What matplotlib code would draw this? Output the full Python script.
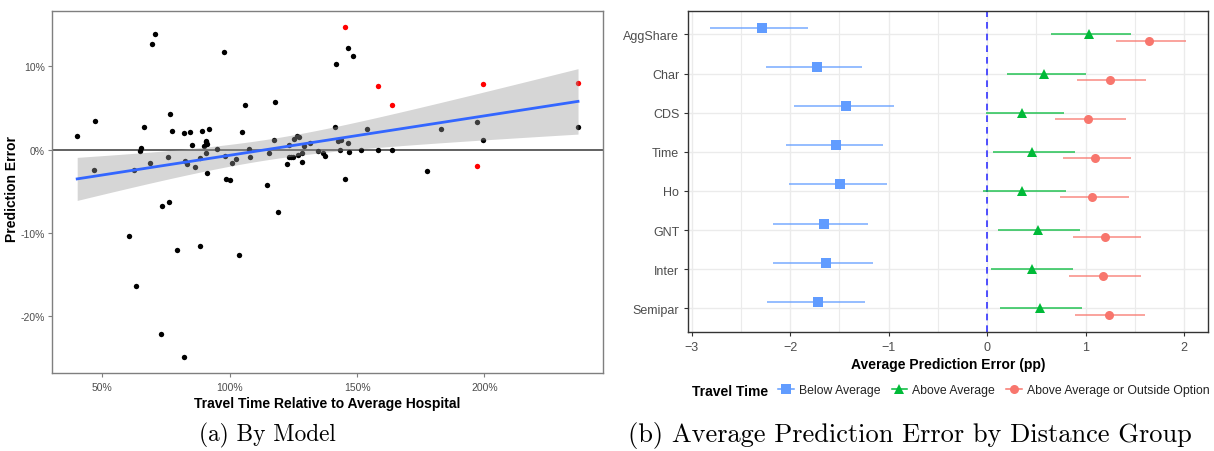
import numpy as np
import matplotlib
matplotlib.use("Agg")
import matplotlib.pyplot as plt
from matplotlib.lines import Line2D
from matplotlib.ticker import FuncFormatter, MultipleLocator

plt.rcParams['font.family'] = ['Liberation Sans', 'DejaVu Sans']

# ---- panel (a): hospital-level prediction errors (percent) ----
travel_time = [40.2, 47.0, 46.9, 60.5, 63.2, 62.3, 64.7, 65.3, 66.5, 68.7,
               69.5, 70.7, 73.3, 73.2, 75.8, 76.3, 76.6, 77.5, 79.3, 82.3,
               82.1, 82.5, 83.25, 84.6, 85.4, 86.4, 88.4, 88.5, 89.3, 89.9,
               90.6, 90.8, 91.0, 90.8, 91.0, 91.9, 95.0, 97.9, 98.3, 98.4,
               100.3, 100.8, 102.5, 103.5, 104.7, 106.1, 107.6, 108.0, 114.5, 115.3,
               117.3, 117.9, 119.0, 122.6, 123.4, 123.3, 124.2, 124.8, 125.2, 126.3,
               127.3, 126.9, 128.4, 128.6, 129.0, 131.6, 134.6, 136.8, 137.5, 141.3,
               141.7, 142.6, 143.9, 143.3, 145.4, 146.5, 146.6, 146.7, 148.5, 151.4,
               154.1, 158.1, 163.8, 177.3, 183.0, 197.0, 199.3, 236.7]
pred_error = [1.68, 3.41, -2.44, -10.32, -16.4, -2.40, -0.16, 0.2, 2.69, -1.62,
              12.69, 13.93, -6.78, -22.09, -0.91, -6.31, 4.25, 2.28, -12.08, 2.04,
              -24.85, -1.30, -1.74, 2.09, 0.60, -2.11, -0.96, -11.56, 2.21, 0.44,
              0.89, 1.08, 0.65, -0.36, -2.83, 2.52, 0.06, 11.69, -0.70, -3.48,
              -3.67, -1.54, -1.12, -12.64, 2.12, 5.34, 0.14, -0.88, -4.21, -0.43,
              1.16, 5.67, -7.45, -1.74, 0.54, -0.90, -0.90, -0.90, 1.32, 1.70,
              1.58, -0.58, -1.51, -0.42, 0.47, 0.80, -0.19, -0.40, -0.76, 2.69,
              10.25, 1.04, 1.20, 0.0, -3.48, 12.21, 0.83, -0.31, 11.25, 0.0,
              2.51, -0.07, 0.0, -2.56, 2.52, 3.29, 1.19, 2.73]
# highlighted hospitals
red_time = [145.4, 158.1, 163.8, 199.3, 197.0, 236.6]
red_error = [14.77, 7.68, 5.40, 7.89, -1.98, 8.04]

# ---- panel (b): average prediction error by distance group (pp) ----
models = ["AggShare", "Char", "CDS", "Time", "Ho", "GNT", "Inter", "Semipar"]
groups = ["Below Average", "Above Average", "Above Average or Outside Option"]
est = {
    "Below Average": [-2.29, -1.73, -1.43, -1.54, -1.49, -1.66, -1.64, -1.72],
    "Above Average": [1.035, 0.573, 0.356, 0.455, 0.356, 0.515, 0.455, 0.536],
    "Above Average or Outside Option": [1.646, 1.245, 1.025, 1.096, 1.062, 1.198, 1.174, 1.238],
}
lo = {
    "Below Average": [-2.81, -2.25, -1.96, -2.04, -2.01, -2.18, -2.18, -2.24],
    "Above Average": [0.645, 0.20, -0.01, 0.06, -0.045, 0.11, 0.04, 0.13],
    "Above Average or Outside Option": [1.31, 0.91, 0.69, 0.774, 0.743, 0.872, 0.835, 0.892],
}
hi = {
    "Below Average": [-1.82, -1.27, -0.95, -1.06, -1.02, -1.21, -1.16, -1.24],
    "Above Average": [1.46, 1.008, 0.78, 0.89, 0.80, 0.94, 0.87, 0.96],
    "Above Average or Outside Option": [2.016, 1.61, 1.405, 1.462, 1.442, 1.561, 1.561, 1.602],
}
colors = {"Below Average": "#619CFF", "Above Average": "#00BA38",
          "Above Average or Outside Option": "#F8766D"}
markers = {"Below Average": "s", "Above Average": "^",
           "Above Average or Outside Option": "o"}
msizes = {"Below Average": 7.5, "Above Average": 7.5,
          "Above Average or Outside Option": 6.5}

fig = plt.figure(figsize=(12.14, 4.52), dpi=100)

# ================= left panel =================
ax1 = fig.add_axes([0.0428, 0.1726, 0.4539, 0.8009])
x_all = np.array(travel_time + red_time)
y_all = np.array(pred_error + red_error)

ax1.scatter(travel_time, pred_error, s=15, color="black", zorder=2, linewidths=0)
ax1.scatter(red_time, red_error, s=15, color="red", zorder=2, linewidths=0)

# linear fit with 95% confidence band
n = len(x_all)
b1, b0 = np.polyfit(x_all, y_all, 1)
resid = y_all - (b0 + b1 * x_all)
s = np.sqrt(np.sum(resid ** 2) / (n - 2))
sxx = np.sum((x_all - x_all.mean()) ** 2)
xs = np.linspace(x_all.min(), x_all.max(), 100)
fit = b0 + b1 * xs
se = s * np.sqrt(1.0 / n + (xs - x_all.mean()) ** 2 / sxx)
tq = 1.986
ax1.fill_between(xs, fit - tq * se, fit + tq * se, color="#999999", alpha=0.4,
                 linewidth=0, zorder=3)
ax1.plot(xs, fit, color="#3366FF", lw=2, zorder=4)
ax1.axhline(0, color="#555555", lw=1.3, zorder=1)

ax1.set_xlim(30.3, 246.5)
ax1.set_ylim(-26.8, 16.65)
ax1.set_xticks([50, 100, 150, 200])
ax1.set_yticks([-20, -10, 0, 10])
ax1.xaxis.set_major_formatter(FuncFormatter(lambda v, p: f"{v:.0f}%"))
ax1.yaxis.set_major_formatter(FuncFormatter(lambda v, p: f"{v:.0f}%"))
for sp in ax1.spines.values():
    sp.set_color("#7f7f7f")
    sp.set_linewidth(1.0)
ax1.tick_params(colors="#7f7f7f", labelcolor="#4d4d4d", labelsize=7.5,
                length=3, width=0.8)
ax1.tick_params(axis="y", pad=2)
ax1.set_xlabel("Travel Time Relative to Average Hospital", fontsize=10,
               fontweight="bold", labelpad=3)
ax1.set_ylabel("Prediction Error", fontsize=10, fontweight="bold")
ax1.yaxis.set_label_coords(-0.060, 0.51)

# ================= right panel =================
ax2 = fig.add_axes([0.567, 0.2639, 0.4281, 0.7095])
pos = np.arange(1, len(models) + 1)
offsets = {"Below Average": -0.167, "Above Average": 0.0,
           "Above Average or Outside Option": 0.167}
for g in groups:
    yy = pos + offsets[g]
    ax2.hlines(yy, lo[g], hi[g], color=colors[g], lw=1.1, alpha=0.85, zorder=3)
    ax2.plot(est[g], yy, linestyle="none", marker=markers[g], ms=msizes[g],
             color=colors[g], markeredgewidth=0, zorder=4)
ax2.axvline(0, color="#3333FF", lw=1.2, ls=(0, (4, 3)), zorder=2)

ax2.set_xlim(-3.035, 2.243)
ax2.set_ylim(8.6, 0.4)
ax2.set_yticks(pos)
ax2.set_yticklabels(models)
ax2.xaxis.set_major_locator(MultipleLocator(1))
ax2.xaxis.set_minor_locator(MultipleLocator(0.5))
ax2.xaxis.set_major_formatter(FuncFormatter(lambda v, p: f"{v:.0f}".replace("-", "\u2212")))
ax2.grid(which="major", color="#ebebeb", lw=1.0, zorder=0)
ax2.grid(which="minor", axis="x", color="#ebebeb", lw=0.8, zorder=0)
ax2.set_axisbelow(True)
for sp in ax2.spines.values():
    sp.set_color("#333333")
    sp.set_linewidth(1.0)
ax2.tick_params(which="major", colors="#333333", labelcolor="#4d4d4d",
                labelsize=9, length=3, width=0.8)
ax2.tick_params(which="minor", length=0)
ax2.set_xlabel("Average Prediction Error (pp)", fontsize=10, fontweight="bold",
               labelpad=3)

# legend below the right panel
handles = [Line2D([0], [0], color=colors[g], lw=1.1, marker=markers[g],
                  ms=msizes[g], markeredgewidth=0) for g in groups]
fig.text(0.570, 0.133, "Travel Time", fontsize=10, fontweight="bold",
         va="center", ha="left")
fig.legend(handles, groups, loc="center left", bbox_to_anchor=(0.632, 0.134),
           ncol=3, frameon=False, fontsize=8.8, handlelength=1.3,
           handletextpad=0.4, columnspacing=0.9, labelcolor="#222222")

# panel captions
fig.text(0.2203, 0.036, "(a) By Model", family="cmr10", fontsize=16.8,
         ha="center", va="center")
fig.text(0.7496, 0.036, "(b) Average Prediction Error by Distance Group",
         family="cmr10", fontsize=19, ha="center", va="center")

fig.savefig("out.png", dpi=100)
